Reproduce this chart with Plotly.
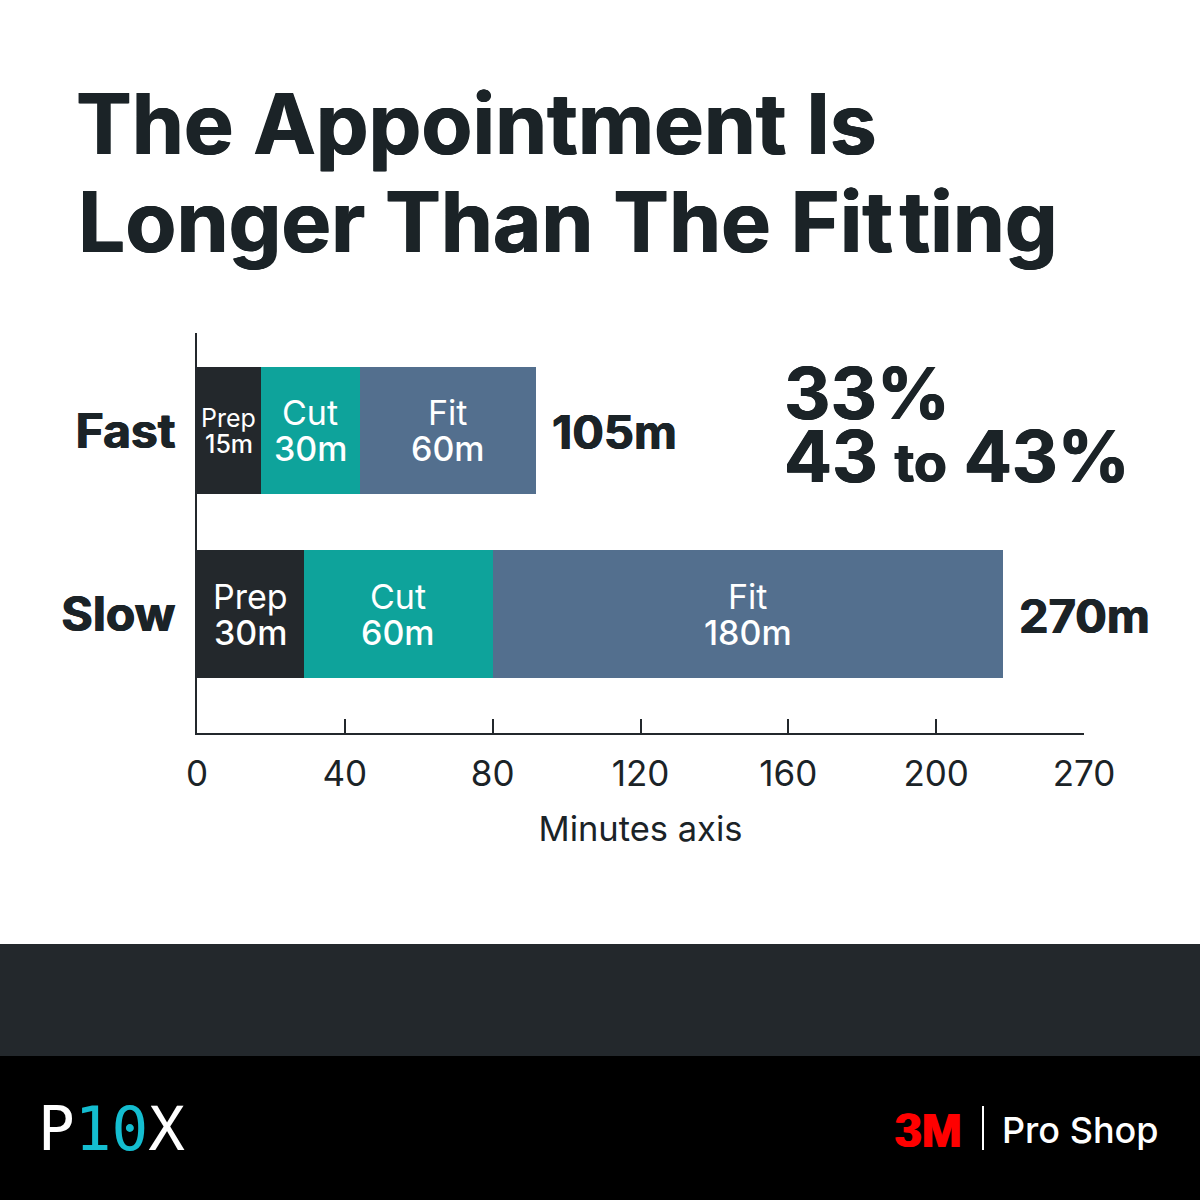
import plotly.graph_objects as go

# Values as drawn in the picture (bars do not follow their printed labels).
categories = ["Slow", "Fast"]
prep_values = [29, 17.3]
cut_values = [51, 26.7]
fit_values = [138, 47.7]
prep_labels = [["Prep", "30m"], ["Prep", "15m"]]
cut_labels = [["Cut", "60m"], ["Cut", "30m"]]
fit_labels = [["Fit", "180m"], ["Fit", "60m"]]
total_labels = ["270m", "105m"]
tick_values = [0, 40, 80, 120, 160, 200, 240]
tick_labels = ["0", "40", "80", "120", "160", "200", "270"]

DARK = "#23282c"
TEAL = "#0ea39b"
SLATE = "#536f8e"
TEXT = "#1b2327"
FONT = "Inter"
HEAVY = f"0.6px 0 0 {TEXT}, -0.6px 0 0 {TEXT}"


def px_y(y):
    # pixel row -> paper coordinate
    return 1 - y / 1200


def note(text, x, y, size, color=TEXT, weight=400, anchor="left", family=FONT, shadow=None):
    font = dict(family=family, size=size, color=color, weight=weight)
    if shadow:
        font["shadow"] = shadow
    return dict(
        text=text, x=x / 1200, y=px_y(y), xref="paper", yref="paper",
        xanchor=anchor, yanchor="middle", showarrow=False, font=font,
    )


fig = go.Figure()

for name, values, color in [
    ("Prep", prep_values, DARK),
    ("Cut", cut_values, TEAL),
    ("Fit", fit_values, SLATE),
]:
    fig.add_trace(go.Bar(
        name=name, y=categories, x=values, orientation="h",
        marker=dict(color=color, line=dict(width=0)), width=0.694,
    ))

annotations = []

# Two-line labels inside the segments
for i, cat in enumerate(categories):
    left = 0
    for values, labels, sizes in [
        (prep_values, prep_labels, [34, 25]),
        (cut_values, cut_labels, [34, 34]),
        (fit_values, fit_labels, [34, 34]),
    ]:
        mid = left + values[i] / 2
        size = sizes[i]
        gap = 18 if size > 30 else 13
        for line, shift in zip(labels[i], [gap, -gap]):
            annotations.append(dict(
                text=line, x=mid, y=cat, xref="x", yref="y", yshift=shift,
                showarrow=False,
                font=dict(family=FONT, size=size, color="white",
                          weight=500 if line.endswith("m") else 400),
            ))
        left += values[i]
    annotations.append(dict(
        text=total_labels[i], x=left, y=cat, xref="x", yref="y", xshift=14,
        yshift=-1, xanchor="left", showarrow=False,
        font=dict(family=FONT, size=47, color=TEXT, weight=700, shadow=HEAVY),
    ))

# Headline
annotations.append(note("The Appointment Is", 74, 124, 83.6, weight=700, shadow=HEAVY))
annotations.append(note("Longer Than The Fit\u200ating", 76, 221, 83.6, weight=700, shadow=HEAVY))

# Callout
annotations.append(note("33%", 782, 392, 72, weight=700, shadow=HEAVY))
annotations.append(note(
    "43 <span style='font-size:54px'>to</span> 43%", 782, 456, 71, weight=700, shadow=HEAVY,
))

# Footer
annotations.append(note(
    "<span style='color:#ffffff'>P</span>10<span style='color:#ffffff'>X</span>",
    36, 1128, 61, color="#14bdd0", family="DejaVu Sans Mono",
))
annotations.append(note("3M", 893, 1130, 48, color="#ff0000", weight=700,
                        family="Liberation Sans", shadow="1px 0 0 #ff0000, -1px 0 0 #ff0000"))
annotations.append(note("Pro Shop", 1000, 1130, 36, color="white", weight=500))

fig.update_layout(
    width=1200, height=1200,
    margin=dict(l=0, r=0, t=0, b=0, pad=0),
    paper_bgcolor="white", plot_bgcolor="white",
    barmode="stack", showlegend=False,
    annotations=annotations,
    shapes=[
        dict(type="rect", xref="paper", yref="paper", x0=0, x1=1,
             y0=px_y(1056), y1=px_y(944), fillcolor=DARK, line_width=0),
        dict(type="rect", xref="paper", yref="paper", x0=0, x1=1,
             y0=0, y1=px_y(1056), fillcolor="black", line_width=0),
        dict(type="line", xref="paper", yref="paper", x0=983 / 1200, x1=983 / 1200,
             y0=px_y(1150), y1=px_y(1106), line=dict(color="white", width=2)),
    ],
    xaxis=dict(
        domain=[197 / 1200, 1084 / 1200], range=[0, 240], automargin=False,
        tickvals=tick_values, ticktext=tick_labels,
        ticks="inside", ticklen=14, tickwidth=2, tickcolor=DARK,
        showline=True, linecolor=DARK, linewidth=2, showgrid=False, zeroline=False,
        tickfont=dict(family=FONT, size=35, color=TEXT),
        ticklabelstandoff=9,
        title=dict(text="Minutes axis", font=dict(family=FONT, size=34.5, color=TEXT), standoff=24),
    ),
    yaxis=dict(
        domain=[px_y(733), px_y(333)], range=[-0.65, 1.535], automargin=False,
        showline=True, linecolor=DARK, linewidth=2, showgrid=False, zeroline=False,
        ticks="", ticklabelstandoff=10,
        tickfont=dict(family=FONT, size=48, color=TEXT, weight=700, shadow=HEAVY),
    ),
)

fig.write_html("out.html", config={"displayModeBar": False},
               post_script="document.body.style.margin='0';")
